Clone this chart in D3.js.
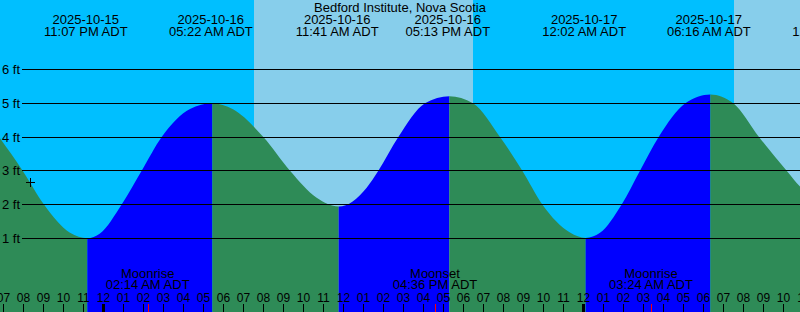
<!DOCTYPE html>
<html><head><meta charset="utf-8">
<script src="https://cdn.jsdelivr.net/npm/d3@7"></script>
<style>
html,body{margin:0;padding:0;background:#fff;overflow:hidden;}
svg{display:block;}
text{font-family:"Liberation Sans",Arial,sans-serif;fill:#000;}
</style>
</head><body><div id="chart"></div>
<script>
const title = "Bedford Institute, Nova Scotia";
const domainStart = "2025-10-15 18:45";
const domainEnd = "2025-10-17 10:45";

// tide heights (ft) (extremes and grid-line crossings)
const tideTimes = [
  "2025-10-15 18:45","2025-10-15 19:53","2025-10-15 20:57","2025-10-15 22:15","2025-10-15 23:07",
  "2025-10-15 23:45","2025-10-16 00:50","2025-10-16 01:50","2025-10-16 02:50","2025-10-16 04:15",
  "2025-10-16 05:22","2025-10-16 06:24","2025-10-16 07:55","2025-10-16 09:15","2025-10-16 10:35",
  "2025-10-16 11:41","2025-10-16 13:05","2025-10-16 13:40","2025-10-16 14:40","2025-10-16 16:00",
  "2025-10-16 17:13","2025-10-16 18:24","2025-10-16 19:45","2025-10-16 20:52","2025-10-16 21:52",
  "2025-10-16 23:15","2025-10-17 00:02","2025-10-17 00:45","2025-10-17 01:50","2025-10-17 02:45",
  "2025-10-17 03:41","2025-10-17 05:01","2025-10-17 06:16","2025-10-17 07:25","2025-10-17 08:42",
  "2025-10-17 10:05","2025-10-17 10:45","2025-10-17 12:33"
];
const tideHeights = [
  3.96,3.0,2.0,1.16,1.0,
  1.14,2.0,3.0,4.0,4.83,
  5.0,4.82,4.0,3.0,2.2,
  1.94,2.5,3.0,4.0,5.0,
  5.21,5.0,4.0,3.0,2.0,
  1.17,1.01,1.16,2.0,3.0,
  4.0,5.0,5.26,5.0,4.0,
  3.0,2.53,1.9
];

// high / low tides
const extremeTimes = ["2025-10-15 23:07","2025-10-16 05:22","2025-10-16 11:41","2025-10-16 17:13","2025-10-17 00:02","2025-10-17 06:16","2025-10-17 12:33"];
const extremeTypes = ["low","high","low","high","low","high","low"];

// sun events
const sunTimes = ["2025-10-15 18:26","2025-10-16 07:27","2025-10-16 18:24","2025-10-17 07:28","2025-10-17 18:22"];
const sunTypes = ["set","rise","set","rise","set"];

// moon events
const moonTimes = ["2025-10-16 02:14","2025-10-16 16:36","2025-10-17 03:24"];
const moonLabels = ["Moonrise","Moonset","Moonrise"];

const yTicks = [1,2,3,4,5,6];
const nowTime = "2025-10-15 20:15";
const nowHeight = 2.68;

const colors = {night:"#00BFFF", day:"#87CEEB", rising:"#0000FF", falling:"#2E8B57"};

const W = 800, H = 312;
const parse = d3.timeParse("%Y-%m-%d %H:%M");
const x = d3.scaleTime().domain([parse(domainStart), parse(domainEnd)]).range([0, W]);
const y = d3.scaleLinear().domain([0, 6]).range([272, 69.5]);
const tickShift = -2;

const svg = d3.select("#chart").append("svg").attr("width", W).attr("height", H);

// sky
const sun = sunTimes.map((t,i)=>({t:parse(t), type:sunTypes[i]}));
const skyBounds = [];
for (let i=0;i<sun.length;i++){
  const a = sun[i].t, b = i+1<sun.length ? sun[i+1].t : d3.timeHour.offset(parse(domainEnd), 24);
  skyBounds.push({a, b, c: sun[i].type==="rise" ? colors.day : colors.night});
}
svg.append("g").selectAll("rect").data(skyBounds).join("rect")
  .attr("x", d=>Math.round(x(d.a))).attr("y",0)
  .attr("width", d=>Math.round(x(d.b))-Math.round(x(d.a))).attr("height",H)
  .attr("fill", d=>d.c).attr("shape-rendering","crispEdges");

// water
const tide = tideTimes.map((t,i)=>({t:parse(t), h:tideHeights[i]}));
const area = d3.area().x(d=>x(d.t)).y0(H).y1(d=>y(d.h)).curve(d3.curveMonotoneX);
svg.append("clipPath").attr("id","water").append("path").attr("d", area(tide));
const ext = extremeTimes.map((t,i)=>({t:parse(t), type:extremeTypes[i]}));
const segs = [];
let prev = d3.timeHour.offset(parse(domainStart), -24);
ext.forEach(e=>{ segs.push({a:prev, b:e.t, c: e.type==="high" ? colors.rising : colors.falling}); prev = e.t; });
segs.push({a:prev, b:d3.timeHour.offset(parse(domainEnd), 24), c: ext[ext.length-1].type==="low" ? colors.rising : colors.falling});
svg.append("g").attr("clip-path","url(#water)").selectAll("rect").data(segs).join("rect")
  .attr("x", d=>x(d.a)).attr("y",0).attr("width", d=>x(d.b)-x(d.a)).attr("height",H)
  .attr("fill", d=>d.c);

// grid lines + y labels
const grid = svg.append("g");
grid.selectAll("line").data(yTicks).join("line")
  .attr("x1",22).attr("x2",W)
  .attr("y1", d=>Math.floor(y(d))+0.5).attr("y2", d=>Math.floor(y(d))+0.5)
  .attr("stroke","#000").attr("stroke-width",1).attr("shape-rendering","crispEdges");
grid.selectAll("text").data(yTicks).join("text")
  .attr("x",2).attr("y", d=>Math.floor(y(d))+5)
  .attr("font-size",13).text(d=>d+" ft");

// hour ticks
const hours = d3.timeHour.range(d3.timeHour.offset(parse(domainStart), -1), d3.timeHour.offset(parse(domainEnd), 2));
const fmtHour = d3.timeFormat("%I");
const ht = svg.append("g");
ht.selectAll("line").data(hours).join("line")
  .attr("x1", d=>Math.round(x(d)+tickShift)+0.5).attr("x2", d=>Math.round(x(d)+tickShift)+0.5)
  .attr("y1",304).attr("y2",H)
  .attr("stroke","#000").attr("stroke-width", d=>d.getHours()===0 ? 3 : 1)
  .attr("shape-rendering","crispEdges");
ht.selectAll("text").data(hours).join("text")
  .attr("x", d=>x(d)+tickShift+0.5).attr("y",302).attr("text-anchor","middle")
  .attr("font-size",12).text(d=>fmtHour(d));

// moon events
const moon = moonTimes.map((t,i)=>({t:parse(t), label:moonLabels[i]}));
const fmtTime = d3.timeFormat("%I:%M %p ADT");
const mg = svg.append("g");
mg.selectAll("line").data(moon).join("line")
  .attr("x1", d=>Math.round(x(d.t)+tickShift)+0.5).attr("x2", d=>Math.round(x(d.t)+tickShift)+0.5)
  .attr("y1",304).attr("y2",H).attr("stroke","#FF0000").attr("stroke-width",1)
  .attr("shape-rendering","crispEdges");
mg.selectAll("text.m1").data(moon).join("text").attr("class","m1")
  .attr("x", d=>x(d.t)+tickShift).attr("y",278).attr("text-anchor","middle")
  .attr("font-size",13).text(d=>d.label);
mg.selectAll("text.m2").data(moon).join("text").attr("class","m2")
  .attr("x", d=>x(d.t)+tickShift).attr("y",289).attr("text-anchor","middle")
  .attr("font-size",13).text(d=>fmtTime(d.t));

// top extreme labels
const fmtDate = d3.timeFormat("%Y-%m-%d");
const tg = svg.append("g");
tg.selectAll("text.d").data(ext).join("text").attr("class","d")
  .attr("x", d=>x(d.t)-1.5).attr("y",24).attr("text-anchor","middle")
  .attr("font-size",13).text(d=>fmtDate(d.t));
tg.selectAll("text.t").data(ext).join("text").attr("class","t")
  .attr("x", d=>x(d.t)-1.5).attr("y",36).attr("text-anchor","middle")
  .attr("font-size",13).text(d=>fmtTime(d.t));

// title
svg.append("text").attr("x",W/2).attr("y",12).attr("text-anchor","middle")
  .attr("font-size",13).text(title);

// current-time marker
const nx = Math.round(x(parse(nowTime))), ny = Math.round(y(nowHeight));
const cross = svg.append("g").attr("stroke","#000").attr("stroke-width",1).attr("shape-rendering","crispEdges");
cross.append("line").attr("x1",nx-4).attr("x2",nx+5).attr("y1",ny+0.5).attr("y2",ny+0.5);
cross.append("line").attr("x1",nx+0.5).attr("x2",nx+0.5).attr("y1",ny-4).attr("y2",ny+5);
</script>
</body></html>
